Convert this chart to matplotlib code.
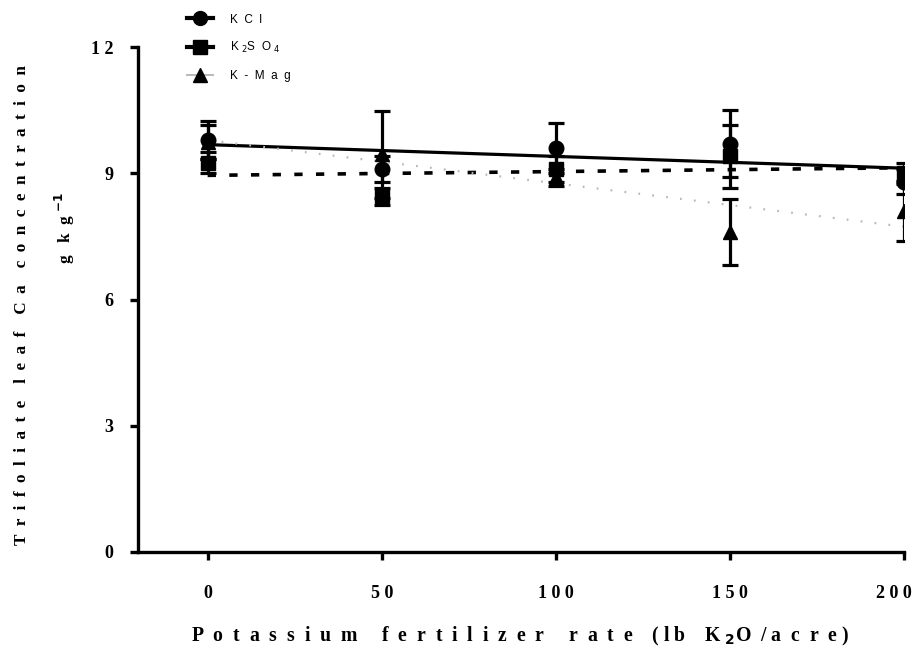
import numpy as np
import matplotlib
matplotlib.use("Agg")
import matplotlib.pyplot as plt
import matplotlib.transforms as mtransforms
from matplotlib.lines import Line2D

# ---- data ----
rates = [0, 50, 100, 150, 200]
kcl_mean = [9.8, 9.1, 9.6, 9.7, 8.8]
kcl_err = [0.45, 0.3, 0.6, 0.8, 0.3]
k2so4_mean = [9.25, 8.45, 9.1, 9.4, 9.0]
k2so4_err = [0.25, 0.2, 0.3, 0.75, 0.25]
kmag_mean = [9.75, 9.45, 8.9, 7.6, 8.1]
kmag_err = [0.4, 1.03, 0.2, 0.78, 0.72]

series_names = ["K  C  l", "K $_2$S  O $_4$", "K  -  M  a  g"]
xtick_vals = [0, 50, 100, 150, 200]
xtick_labels = ["0", "5 0", "1 0 0", "1 5 0", "2 0 0"]
ytick_vals = [0, 3, 6, 9, 12]
ytick_labels = ["0", "3", "6", "9", "1 2"]

serif = "Liberation Serif"
sans = "Liberation Sans"

fig = plt.figure(figsize=(9.21, 6.55), dpi=100)
ax = fig.add_axes([138/921, 1-552/655, (904-138)/921, (552-47)/655])

styles = [
    dict(marker="o", color="black", lw=2.3, dashes=None),
    dict(marker="s", color="black", lw=2.6, dashes=(2.3, 3.7)),
    dict(marker="^", color="#b8b8b8", lw=1.6, dashes=(0.8, 5.5)),
]
means = [kcl_mean, k2so4_mean, kmag_mean]
errs = [kcl_err, k2so4_err, kmag_err]
x = np.array(rates, dtype=float)
xfit = np.array([min(rates), max(rates)], dtype=float)

handles = []
for m, e, st in zip(means, errs, styles):
    m = np.array(m)
    coef = np.polyfit(x, m, 1)
    yfit = np.polyval(coef, xfit)
    ln, = ax.plot(xfit, yfit, color=st["color"], lw=st["lw"], zorder=2)
    if st["dashes"] is not None:
        ln.set_dashes(st["dashes"])
    ax.errorbar(x, m, yerr=e, fmt=st["marker"], color="black", ms=10.5,
                elinewidth=2.3, capsize=5.5, capthick=2.3, zorder=3)
    h = Line2D([], [], color=st["color"], lw=3 if st["marker"] != "^" else 1.4,
               marker=st["marker"], markerfacecolor="black",
               markeredgecolor="black", ms=10)
    handles.append(h)

ax.set_xlim(-20, 200)
ax.set_ylim(0, 12)
ax.set_xticks(xtick_vals)
ax.set_xticklabels(xtick_labels)
ax.set_yticks(ytick_vals)
ax.set_yticklabels(ytick_labels)
for s in ["top", "right"]:
    ax.spines[s].set_visible(False)
for s in ["left", "bottom"]:
    ax.spines[s].set_linewidth(2.4)
ax.tick_params(axis="both", direction="out", length=6, width=2.4)
ax.tick_params(axis="x", pad=18)
ax.tick_params(axis="y", pad=12)
for lab in ax.get_xticklabels() + ax.get_yticklabels():
    lab.set_fontfamily(serif)
    lab.set_fontweight("bold")
    lab.set_fontsize(13)
last = ax.get_xticklabels()[-1]
last.set_transform(last.get_transform() +
                   mtransforms.ScaledTranslation(-10/100, 0, fig.dpi_scale_trans))

fig.text(520/921, 1-636/655,
         "P  o  t  a  s  s  i  u  m     f  e  r  t  i  l  i  z  e  r     r  a  t  e    ( l b    K $_{\\mathbf{2}}$O  / a  c  r  e )",
         ha="center", va="center", fontfamily=serif, fontweight="bold", fontsize=14.2)
fig.text(22/921, 1-305/655,
         "T  r  i  f  o  l  i  a  t  e    l  e  a  f    C  a    c  o  n  c  e  n  t  r  a  t  i  o  n",
         ha="center", va="center", rotation=90, fontfamily=serif, fontweight="bold", fontsize=12.3)
fig.text(65/921, 1-228/655, "g   k  g $^{\\mathbf{-1}}$",
         ha="center", va="center", rotation=90, fontfamily=serif, fontweight="bold", fontsize=12.3)

leg = fig.legend(handles, series_names, loc="upper left", bbox_to_anchor=(176/921, 1-3/655),
                 frameon=False, handlelength=2.2, handletextpad=1.5, labelspacing=1.25,
                 prop=dict(family=sans, size=8.5))

fig.savefig("out.png", dpi=100)
